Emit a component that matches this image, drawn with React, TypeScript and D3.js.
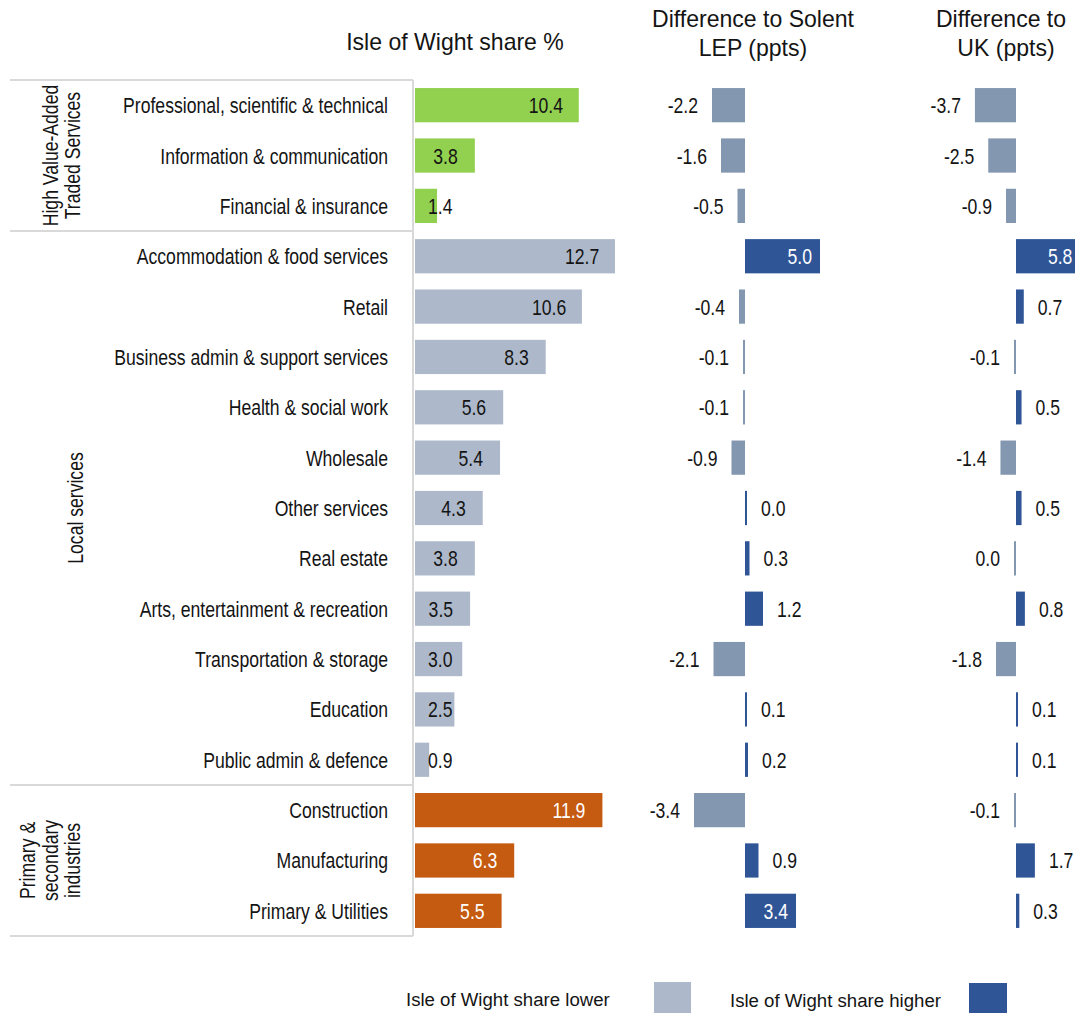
import React from "react";
import * as d3 from "d3";

// Sectors, top to bottom
const sectors = [
  "Professional, scientific & technical",
  "Information & communication",
  "Financial & insurance",
  "Accommodation & food services",
  "Retail",
  "Business admin & support services",
  "Health & social work",
  "Wholesale",
  "Other services",
  "Real estate",
  "Arts, entertainment & recreation",
  "Transportation & storage",
  "Education",
  "Public admin & defence",
  "Construction",
  "Manufacturing",
  "Primary & Utilities",
];

// Sector group of each row
const sectorGroup = [
  "hv", "hv", "hv",
  "local", "local", "local", "local", "local", "local", "local", "local", "local", "local", "local",
  "primary", "primary", "primary",
];

// Isle of Wight share of employment (%)
const iowShare = [10.4, 3.8, 1.4, 12.7, 10.6, 8.3, 5.6, 5.4, 4.3, 3.8, 3.5, 3.0, 2.5, 0.9, 11.9, 6.3, 5.5];

// Difference to Solent LEP (percentage points)
const diffSolent = [-2.2, -1.6, -0.5, 5.0, -0.4, -0.1, -0.1, -0.9, 0.0, 0.3, 1.2, -2.1, 0.1, 0.2, -3.4, 0.9, 3.4];

// Difference to UK (percentage points); -0 marks a value just below zero
const diffUK = [-3.7, -2.5, -0.9, 5.8, 0.7, -0.1, 0.5, -1.4, 0.5, -0, 0.8, -1.8, 0.1, 0.1, -0.1, 1.7, 0.3];

const groupLabels = [
  { key: "hv", lines: ["High Value-Added", "Traded Services"] },
  { key: "local", lines: ["Local services"] },
  { key: "primary", lines: ["Primary &", "secondary", "industries"] },
];

const legendItems = [
  { label: "Isle of Wight share lower", color: "#adb9ca" },
  { label: "Isle of Wight share higher", color: "#2f5597" },
];

const FONT = "'Liberation Sans', Arial, sans-serif";
const W = 1075;
const H = 1013;
const LABEL_SIZE = 22;
const SQUEEZE = 0.8;

const groupColor: Record<string, string> = {
  hv: "#92d050",
  local: "#adb9ca",
  primary: "#c55a11",
};
const NEG = "#8497b0";
const POS = "#2f5597";
const INK = "#141414";

const isNeg = (v: number) => v < 0 || Object.is(v, -0);

// Condensed text: drawn at (x, y) and squeezed along its reading direction
function T(props: {
  x: number;
  y: number;
  anchor?: string;
  fill?: string;
  size?: number;
  sx?: number;
  rotate?: number;
  children: React.ReactNode;
}) {
  const { x, y, anchor = "start", fill = INK, size = LABEL_SIZE, sx = SQUEEZE, rotate = 0 } = props;
  return (
    <text
      transform={`translate(${x},${y})${rotate ? ` rotate(${rotate})` : ""} scale(${sx},1)`}
      textAnchor={anchor}
      fontSize={size}
      fill={fill}
    >
      {props.children}
    </text>
  );
}

export default function App() {
  const y = d3.scaleBand<string>().domain(sectors).range([80, 936]).paddingInner(0.32).paddingOuter(0.16);
  const bw = y.bandwidth();
  const cy = (s: string) => (y(s) as number) + bw / 2;
  const base = (s: string) => cy(s) + 8;

  const xShare = d3.scaleLinear().domain([0, 12.7]).range([415, 615]);
  const xSol = d3.scaleLinear().domain([0, 5]).range([745, 820]);
  const xUK = d3.scaleLinear().domain([0, 5.8]).range([1016, 1080.4]);

  const groupBounds = groupLabels.map((g) => {
    const rows = sectors.filter((_, i) => sectorGroup[i] === g.key);
    const half = (y.step() * y.paddingInner()) / 2;
    const top = (y(rows[0]) as number) - half;
    const bottom = (y(rows[rows.length - 1]) as number) + bw + half;
    return { ...g, top, bottom };
  });

  const fmt = (v: number) => (Math.abs(v).toFixed(1) === "0.0" ? "0.0" : v.toFixed(1));

  const diffPanel = (vals: number[], x: d3.ScaleLinear<number, number>, key: string) => {
    const z = x(0);
    return (
      <g key={key}>
        {sectors.map((s, i) => {
          const v = vals[i];
          const neg = isNeg(v);
          const len = Math.max(Math.abs(x(v) - z), 2);
          const left = neg ? z - len : z;
          const right = neg ? z : z + len;
          let tx: number;
          let anchor = "start";
          let fill = INK;
          if (neg) {
            tx = left - 14;
            anchor = "end";
          } else if (len > 40) {
            tx = right - 8;
            anchor = "end";
            fill = "#fff";
          } else {
            tx = right + 14;
          }
          return (
            <g key={s}>
              <rect x={left} y={y(s)} width={len} height={bw} fill={neg ? NEG : POS} />
              <T x={tx} y={base(s)} anchor={anchor} fill={fill}>
                {fmt(v)}
              </T>
            </g>
          );
        })}
      </g>
    );
  };

  return (
    <svg width={W} height={H} style={{ position: "absolute", left: 0, top: 0, fontFamily: FONT }}>
      <rect width={W} height={H} fill="#fff" />

      {/* column titles */}
      <T x={455} y={50} anchor="middle" size={24} sx={0.96}>Isle of Wight share %</T>
      <T x={753} y={27} anchor="middle" size={24} sx={0.96}>Difference to Solent</T>
      <T x={753} y={56} anchor="middle" size={24} sx={0.96}>LEP (ppts)</T>
      <T x={1001} y={27} anchor="middle" size={24} sx={0.96}>Difference to</T>
      <T x={1006} y={56} anchor="middle" size={24} sx={0.96}>UK (ppts)</T>

      {/* group frame */}
      <g stroke="#d9d9d9" strokeWidth={2} fill="none">
        {groupBounds.map((g) => (
          <line key={g.key + "t"} x1={10} x2={413} y1={g.top} y2={g.top} />
        ))}
        <line x1={10} x2={413} y1={groupBounds[2].bottom} y2={groupBounds[2].bottom} />
        <line x1={413} x2={413} y1={groupBounds[0].top} y2={groupBounds[2].bottom} />
      </g>

      {/* group labels, read bottom to top */}
      {groupBounds.map((g) => {
        const mid = (g.top + g.bottom) / 2;
        const n = g.lines.length;
        const lh = 22.5;
        const lastX = g.key === "local" ? 83 : 80;
        return (
          <g key={g.key}>
            {g.lines.map((ln, j) => (
              <T key={ln} x={lastX - (n - 1 - j) * lh} y={mid} anchor="middle" rotate={-90}>
                {ln}
              </T>
            ))}
          </g>
        );
      })}

      {/* sector labels */}
      {sectors.map((s) => (
        <T key={s} x={388} y={base(s)} anchor="end">
          {s}
        </T>
      ))}

      {/* share bars */}
      {sectors.map((s, i) => {
        const v = iowShare[i];
        const end = xShare(v);
        const label = v.toFixed(1);
        const w = label.length > 3 ? 33 : 24.5;
        const tx = Math.max(428, end - 17 - w);
        return (
          <g key={s}>
            <rect x={xShare(0)} y={y(s)} width={end - xShare(0)} height={bw} fill={groupColor[sectorGroup[i]]} />
            <T x={tx} y={base(s)} fill={sectorGroup[i] === "primary" ? "#fff" : INK}>
              {label}
            </T>
          </g>
        );
      })}

      {diffPanel(diffSolent, xSol, "sol")}
      {diffPanel(diffUK, xUK, "uk")}

      {/* legend */}
      <T x={406} y={1006} size={19} sx={0.98}>{legendItems[0].label}</T>
      <rect x={654} y={982} width={37} height={31} fill={legendItems[0].color} />
      <T x={730} y={1007} size={19} sx={0.98}>{legendItems[1].label}</T>
      <rect x={969} y={983} width={38} height={30} fill={legendItems[1].color} />
    </svg>
  );
}
